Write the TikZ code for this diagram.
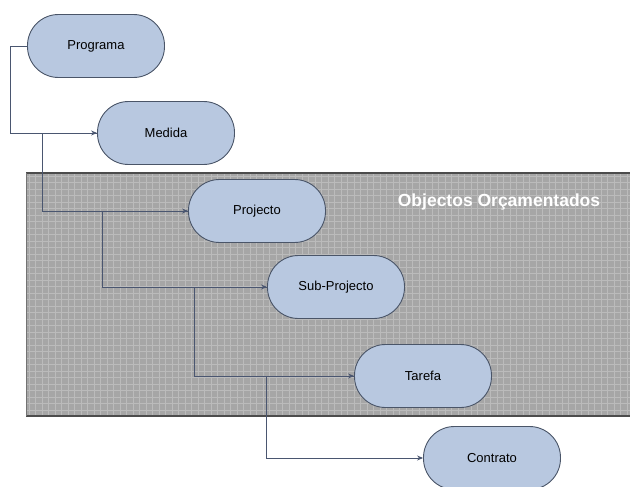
\documentclass[tikz,border=0pt]{standalone}
\usepackage{fontspec}
\setmainfont{Liberation Sans}
\usetikzlibrary{arrows.meta}
\definecolor{boxfill}{HTML}{B8C8E0}
\definecolor{boxline}{HTML}{4A5568}
\definecolor{panelfill}{HTML}{A6A6A6}
\definecolor{panelgrid}{HTML}{BBBBBB}
\definecolor{wireline}{HTML}{4A5670}
\tikzset{
  phase/.style={draw=boxline, line width=0.9pt, fill=boxfill,
    minimum width=137pt, minimum height=63pt, rounded corners=31pt,
    inner sep=0pt, font=\fontsize{13}{13}\selectfont},
  wire/.style={draw=wireline, line width=0.8pt},
  arrowwire/.style={wire, -{Stealth[length=6pt,width=5pt]}},
}
\begin{document}
\begin{tikzpicture}[x=1pt,y=-1pt]
\useasboundingbox (0,0) rectangle (630,487);
% shaded panel with a fine grid
\fill[panelfill] (26,173) rectangle (630,416);
\begin{scope}
  \clip (26,173) rectangle (630,416);
  \foreach \gx in {29,35.5,...,632} {\draw[panelgrid, line width=0.6pt] (\gx,173) -- (\gx,416);}
  \foreach \gy in {176,182.5,...,418} {\draw[panelgrid, line width=0.6pt] (26,\gy) -- (630,\gy);}
\end{scope}
\draw[black!70, line width=1.5pt] (26,173) -- (630,173);
\draw[black!70, line width=1.5pt] (26,416) -- (630,416);
\draw[black!55, line width=1pt] (26,173) -- (26,416);
\node[text=white, font=\bfseries\fontsize{17.5}{17.5}\selectfont] (title) at (499,202) {Objectos Orçamentados};

% stages
\node[phase] (prog) at (96,46) {Programa};
\node[phase] (med) at (166,133) {Medida};
\node[phase] (proj) at (257,211) {Projecto};
\node[phase] (sub) at (336,287) {Sub-Projecto};
\node[phase] (tar) at (423,376) {Tarefa};
\node[phase] (con) at (492,458) {Contrato};

% connectors
\draw[arrowwire] (prog.west) -- (10,46) |- (med.west);
\draw[arrowwire] (med.west) -- (42,133) |- (proj.west);
\draw[arrowwire] (proj.west) -- (102,211) |- (sub.west);
\draw[arrowwire] (sub.west) -- (194,287) |- (tar.west);
\draw[arrowwire] (tar.west) -- (266,376) |- (con.west);
\end{tikzpicture}
\end{document}
